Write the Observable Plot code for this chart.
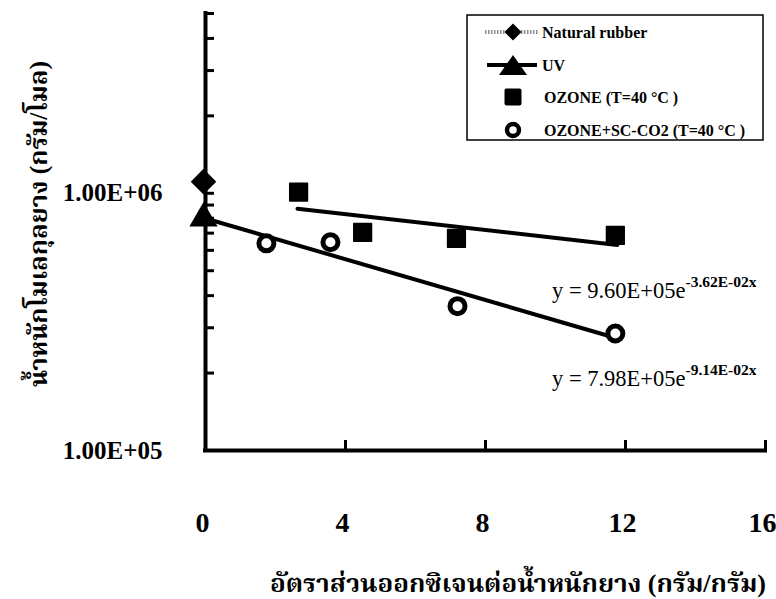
<!DOCTYPE html>
<html><head><meta charset="utf-8">
<script src="https://cdn.jsdelivr.net/npm/d3@7"></script>
<script src="https://cdn.jsdelivr.net/npm/@observablehq/plot@0.6"></script>
<style>
body{margin:0;background:#fff}
#chart{position:relative;width:776px;height:599px}
</style>
</head><body><div id="chart"></div>
<script>
// ---- data ----
const naturalRubberX = [0];
const naturalRubberY = [1.11e6];
const uvX = [0];
const uvY = [8.0e5];
const ozoneX = [2.66, 4.49, 7.17, 11.71];
const ozoneY = [1.01e6, 7.05e5, 6.68e5, 6.86e5];
const scco2X = [1.74, 3.57, 7.2, 11.71];
const scco2Y = [6.39e5, 6.45e5, 3.64e5, 2.85e5];
const ozoneFitX = [2.63, 11.77];
const ozoneFitY = [8.70e5, 6.30e5];
const scco2FitX = [0, 11.8];
const scco2FitY = [7.98e5, 2.72e5];

const xTicks = [0, 4, 8, 12, 16];
const xTickLabels = ["0", "4", "8", "12", "16"];
const xMinorTicks = [4, 8, 12, 16];
const yMajorTicks = [1e5, 1e6];
const yTickLabels = ["1.00E+05", "1.00E+06"];
const yMinorTicks = [2e5, 3e5, 4e5, 5e5, 6e5, 7e5, 8e5, 9e5, 1e6, 2e6, 3e6, 4e6, 5e6];
const xDomain = [0, 16];
const yDomain = [1e5, 5e6];

const seriesNames = ["Natural rubber", "UV", "OZONE (T=40 °C )", "OZONE+SC-CO2 (T=40 °C )"];
const eqBase = ["y = 9.60E+05e", "y = 7.98E+05e"];
const eqExp = ["-3.62E-02x", "-9.14E-02x"];
const xTitle = "อัตราส่วนออกซิเจนต่อน้ำหนักยาง (กรัม/กรัม)";
const yTitle = "น้ำหนักโมเลกุลยาง (กรัม/โมล)";

const zip = (xs, ys) => xs.map((x, i) => ({x, y: ys[i]}));
const serif = "'Liberation Serif', 'Noto Serif Thai', 'Noto Sans Thai', Norasi, Garuda, Loma, serif";

const plot = Plot.plot({
  width: 776, height: 599,
  marginLeft: 205, marginRight: 11, marginTop: 13, marginBottom: 149,
  style: {fontFamily: serif, background: "white", color: "black", overflow: "visible"},
  x: {domain: xDomain, label: null},
  y: {type: "log", domain: yDomain, label: null},
  marks: [
    Plot.ruleX([xDomain[0]], {stroke: "black", strokeWidth: 4, strokeLinecap: "square"}),
    Plot.ruleY([yDomain[0]], {stroke: "black", strokeWidth: 4, strokeLinecap: "square"}),
    Plot.axisY({ticks: yMinorTicks, tickSize: -9, fill: "none", strokeWidth: 3, label: null}),
    Plot.axisY({ticks: yMajorTicks, tickSize: 0, tickPadding: 43, label: null,
      tickFormat: d => yTickLabels[yMajorTicks.indexOf(d)], fontSize: 25, fontWeight: "bold"}),
    Plot.axisX({ticks: xMinorTicks, tickSize: -10, fill: "none", strokeWidth: 3, label: null}),
    Plot.axisX({ticks: xTicks, tickSize: 0, tickPadding: 62, dx: -3, label: null,
      tickFormat: d => xTickLabels[xTicks.indexOf(d)], fontSize: 28, fontWeight: "bold"}),
    Plot.line(zip(ozoneFitX, ozoneFitY), {x: "x", y: "y", stroke: "black", strokeWidth: 4}),
    Plot.line(zip(scco2FitX, scco2FitY), {x: "x", y: "y", stroke: "black", strokeWidth: 4}),
    Plot.dot(zip(naturalRubberX, naturalRubberY), {x: "x", y: "y", symbol: "diamond2", r: 11.5, fill: "black", stroke: "none", dx: -2}),
    Plot.dot(zip(uvX, uvY), {x: "x", y: "y", symbol: "triangle", r: 10.5, fill: "black", stroke: "none", dx: -2}),
    Plot.dot(zip(ozoneX, ozoneY), {x: "x", y: "y", symbol: "square", r: 10, fill: "black", stroke: "black", strokeWidth: 1.5, strokeLinejoin: "round"}),
    Plot.dot(zip(scco2X, scco2Y), {x: "x", y: "y", r: 7.5, fill: "white", stroke: "black", strokeWidth: 5})
  ]
});
document.getElementById("chart").appendChild(plot);

const svg = d3.select(plot);
// axis titles
svg.append("text").attr("transform", "translate(47,224) rotate(-90)")
  .attr("text-anchor", "middle").attr("font-family", serif).attr("font-size", 25)
  .attr("textLength", 326).attr("lengthAdjust", "spacingAndGlyphs")
  .attr("font-weight", "bold").attr("fill", "black").text(yTitle);
svg.append("text").attr("x", 518).attr("y", 592)
  .attr("text-anchor", "middle").attr("font-family", serif).attr("font-size", 25)
  .attr("textLength", 496).attr("lengthAdjust", "spacingAndGlyphs")
  .attr("font-weight", "bold").attr("fill", "black").text(xTitle);

// equations
const eqPos = [[552, 298], [552, 386]];
eqBase.forEach((b, i) => {
  const t = svg.append("text").attr("x", eqPos[i][0]).attr("y", eqPos[i][1]).attr("text-anchor", "start")
    .attr("font-family", serif).attr("font-size", 22.5).attr("fill", "black");
  t.append("tspan").text(b);
  t.append("tspan").attr("dy", -11).attr("font-size", 15.5).attr("font-weight", "bold").text(eqExp[i]);
});

// legend
const lg = svg.append("g").attr("text-anchor", "start");
lg.append("rect").attr("x", 467).attr("y", 15).attr("width", 296).attr("height", 125)
  .attr("fill", "white").attr("stroke", "black").attr("stroke-width", 1.5);
const rows = [32, 65, 97, 130];
const sx = 513;
lg.append("line").attr("x1", 485).attr("x2", 538).attr("y1", rows[0]).attr("y2", rows[0])
  .attr("stroke", "#8a8a8a").attr("stroke-width", 4).attr("stroke-dasharray", "1.5,1.5");
lg.append("path").attr("d", `M${sx},${rows[0]-8.5}L${sx+8.5},${rows[0]}L${sx},${rows[0]+8.5}L${sx-8.5},${rows[0]}Z`).attr("fill", "black");
lg.append("line").attr("x1", 487).attr("x2", 537).attr("y1", rows[1]).attr("y2", rows[1])
  .attr("stroke", "black").attr("stroke-width", 4);
lg.append("path").attr("d", `M${sx},${rows[1]-10}L${sx+14},${rows[1]+10}L${sx-14},${rows[1]+10}Z`).attr("fill", "black");
lg.append("rect").attr("x", sx-8.5).attr("y", rows[2]-8.5).attr("width", 17).attr("height", 17).attr("rx", 2).attr("fill", "black");
lg.append("circle").attr("cx", sx).attr("cy", rows[3]).attr("r", 6).attr("fill", "white").attr("stroke", "black").attr("stroke-width", 4.5);
seriesNames.forEach((n, i) => {
  lg.append("text").attr("x", i < 2 ? 542 : 544).attr("y", rows[i]).attr("dy", "0.35em")
    .attr("font-family", serif).attr("font-size", 16).attr("font-weight", "bold").attr("fill", "black").text(n);
});
</script>
</body></html>
